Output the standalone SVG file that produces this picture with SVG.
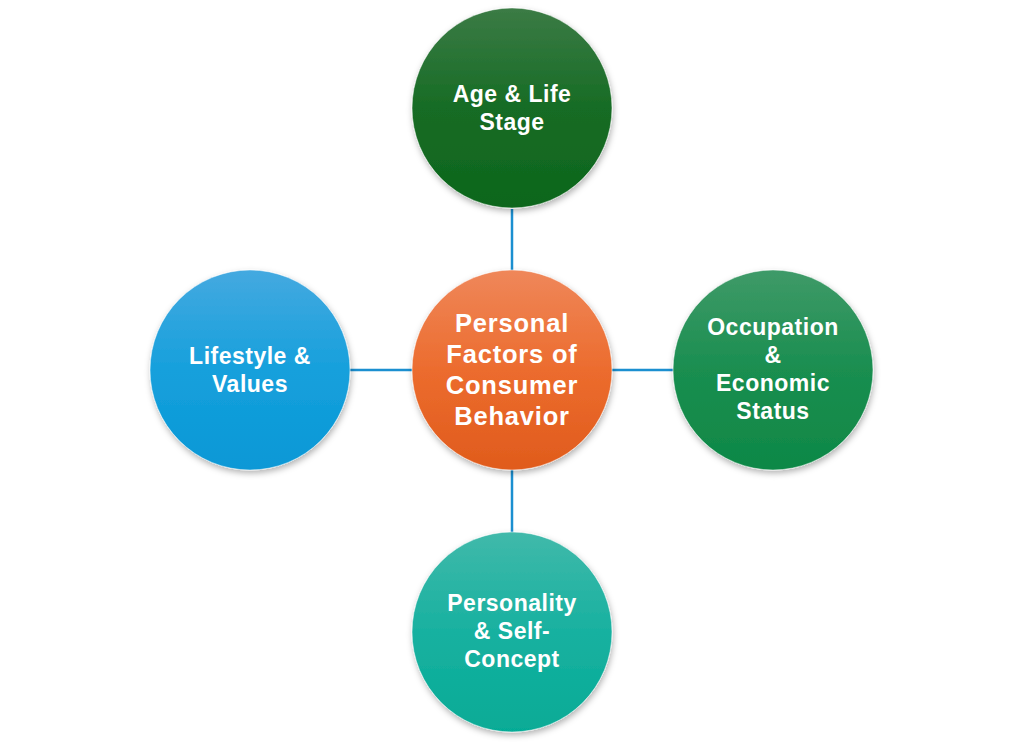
<svg xmlns="http://www.w3.org/2000/svg" width="1024" height="748" viewBox="0 0 1024 748">
<defs>
<linearGradient id="gTop" x1="0" y1="0" x2="0" y2="1"><stop offset="0" stop-color="#3b7b45"/><stop offset="0.5" stop-color="#176c25"/><stop offset="1" stop-color="#0d661c"/></linearGradient>
<linearGradient id="gCenter" x1="0" y1="0" x2="0" y2="1"><stop offset="0" stop-color="#ef875a"/><stop offset="0.5" stop-color="#ec6c2e"/><stop offset="1" stop-color="#e05b1c"/></linearGradient>
<linearGradient id="gLeft" x1="0" y1="0" x2="0" y2="1"><stop offset="0" stop-color="#44a9e0"/><stop offset="0.5" stop-color="#16a0dc"/><stop offset="1" stop-color="#0898d6"/></linearGradient>
<linearGradient id="gRight" x1="0" y1="0" x2="0" y2="1"><stop offset="0" stop-color="#3f9a68"/><stop offset="0.5" stop-color="#1a8e50"/><stop offset="1" stop-color="#0e8846"/></linearGradient>
<linearGradient id="gBottom" x1="0" y1="0" x2="0" y2="1"><stop offset="0" stop-color="#40b9aa"/><stop offset="0.5" stop-color="#18b1a0"/><stop offset="1" stop-color="#06ab96"/></linearGradient>
<filter id="sh" x="-20%" y="-20%" width="140%" height="140%"><feDropShadow dx="1" dy="3" stdDeviation="3" flood-color="#000" flood-opacity="0.3"/></filter>
</defs>
<style>
.c{filter:url(#sh);stroke:#ffffff;stroke-width:1;stroke-opacity:0.5}
.t{font-family:"Liberation Sans",Arial,sans-serif;font-weight:700;font-size:23px;letter-spacing:0.5px;fill:#ffffff;text-anchor:middle}
.tc{font-size:25.5px;letter-spacing:0.8px}
.l{stroke:#1b8fd0;stroke-width:2.5;fill:none}
</style>
<g id="connectors">
<line class="l" x1="512" y1="209" x2="512" y2="270"/>
<line class="l" x1="350" y1="370" x2="412" y2="370"/>
<line class="l" x1="612" y1="370" x2="673" y2="370"/>
<line class="l" x1="512" y1="470" x2="512" y2="532"/>
</g>
<g id="node-top">
<circle class="c" cx="512" cy="108" r="100" fill="url(#gTop)"/>
<text class="t" x="512" y="102">Age &amp; Life</text>
<text class="t" x="512" y="130">Stage</text>
</g>
<g id="node-center">
<circle class="c" cx="512" cy="370" r="100" fill="url(#gCenter)"/>
<text class="t tc" x="512" y="332">Personal</text>
<text class="t tc" x="512" y="363">Factors of</text>
<text class="t tc" x="512" y="394">Consumer</text>
<text class="t tc" x="512" y="425">Behavior</text>
</g>
<g id="node-left">
<circle class="c" cx="250" cy="370" r="100" fill="url(#gLeft)"/>
<text class="t" x="250" y="364">Lifestyle &amp;</text>
<text class="t" x="250" y="392">Values</text>
</g>
<g id="node-right">
<circle class="c" cx="773" cy="370" r="100" fill="url(#gRight)"/>
<text class="t" x="773" y="335">Occupation</text>
<text class="t" x="773" y="363">&amp;</text>
<text class="t" x="773" y="391">Economic</text>
<text class="t" x="773" y="419">Status</text>
</g>
<g id="node-bottom">
<circle class="c" cx="512" cy="632" r="100" fill="url(#gBottom)"/>
<text class="t" x="512" y="611">Personality</text>
<text class="t" x="512" y="639">&amp; Self-</text>
<text class="t" x="512" y="667">Concept</text>
</g>
</svg>
